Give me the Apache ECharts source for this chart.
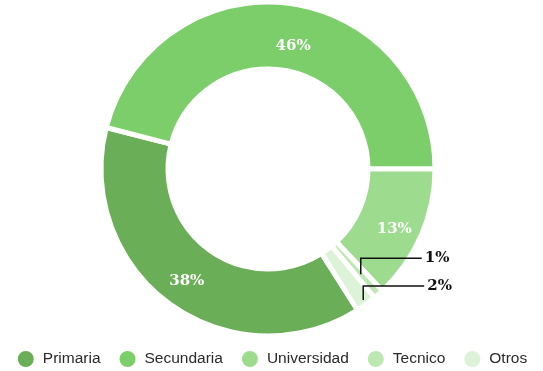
<!DOCTYPE html>
<html>
<head>
<meta charset="utf-8">
<script src="https://cdn.jsdelivr.net/npm/echarts@6/dist/echarts.min.js"></script>
<style>
  html, body { margin: 0; padding: 0; background: #fff; }
  #chart { width: 543px; height: 371px; }
</style>
</head>
<body>
<div id="chart"></div>
<script>
// Education level shares (percent)
const categories = ['Primaria', 'Secundaria', 'Universidad', 'Tecnico', 'Otros'];
const values = [38, 46, 13, 1, 2];
const colors = ['#6aae57', '#7bce6a', '#9ddb8f', '#bde8b2', '#dcf3d7'];

// Ring geometry (pixels)
const CX = 268, CY = 169;
const R_IN = 100, R_OUT = 167;
const START = 302.4;

// Small slices get an outside label with an elbow leader:
// "at" is where the leader starts (fraction of the outer radius),
// "rise" is the length of its vertical part
const outsideLabel = {
  Tecnico: { at: 0.84, rise: 16 },
  Otros: { at: 0.97, rise: 14 }
};
// Nudges for the inside labels
const insideOffset = { Primaria: [-1, 2], Secundaria: [8, 13], Universidad: [1, 6] };

const total = values.reduce((a, b) => a + b, 0);
function midAngle(i) {
  let before = 0;
  for (let k = 0; k < i; k++) before += values[k];
  const frac = (before + values[i] / 2) / total;
  return (START - frac * 360) * Math.PI / 180;
}

const serif = {
  fontFamily: 'DejaVu Serif',
  fontWeight: 'bold',
  fontSize: 15
};

// Filled ring with the inside labels
const ringData = categories.map((name, i) => {
  const inside = outsideLabel[name] === undefined;
  return {
    name,
    value: values[i],
    itemStyle: { color: colors[i] },
    label: inside
      ? Object.assign({ show: true, position: 'inside', color: '#fff', offset: insideOffset[name] || [0, 0] }, serif)
      : { show: false },
    labelLine: { show: false }
  };
});

// Transparent copy on top that carries the leader lines of the small slices,
// so the leaders are drawn over the neighbouring sectors
const leaderData = categories.map((name, i) => {
  const outside = outsideLabel[name] !== undefined;
  return {
    name,
    value: values[i],
    label: outside
      ? Object.assign({ show: true, position: 'outside', color: '#111' }, serif)
      : { show: false },
    labelLine: outside
      ? { show: true, smooth: false, lineStyle: { color: '#111', width: 1.5 } }
      : { show: false }
  };
});

const common = {
  type: 'pie',
  center: [CX, CY],
  radius: [R_IN, R_OUT],
  startAngle: START,
  clockwise: true,
  avoidLabelOverlap: false,
  percentPrecision: 0,
  silent: true,
  emphasis: { disabled: true },
  label: { formatter: '{d}%' }
};

const chart = echarts.init(document.getElementById('chart'), null, { renderer: 'canvas' });
chart.setOption({
  animation: false,
  backgroundColor: '#fff',
  color: colors,
  legend: {
    data: categories,
    left: 'center',
    top: 344,
    icon: 'circle',
    itemWidth: 18,
    itemHeight: 18,
    itemGap: 17,
    selectedMode: false,
    textStyle: {
      fontFamily: 'Liberation Sans',
      fontSize: 15.5,
      color: '#2a2a2a',
      padding: [0, 0, 0, 3]
    }
  },
  series: [
    Object.assign({}, common, {
      name: 'ring',
      z: 2,
      itemStyle: { borderColor: '#fff', borderWidth: 5 },
      data: ringData
    }),
    Object.assign({}, common, {
      name: 'leaders',
      z: 5,
      itemStyle: { color: 'rgba(0,0,0,0)', borderWidth: 0 },
      labelLayout: function (params) {
        const name = categories[params.dataIndex];
        const cfg = outsideLabel[name];
        if (cfg === undefined) return {};
        const a = midAngle(params.dataIndex);
        const r = R_OUT * cfg.at;
        const ax = CX + r * Math.cos(a);
        const ay = CY - r * Math.sin(a);
        const ly = ay - cfg.rise;
        return {
          x: ax + 64,
          y: ly,
          align: 'left',
          verticalAlign: 'middle',
          labelLinePoints: [[ax, ay], [ax, ly], [ax + 61, ly]]
        };
      },
      data: leaderData
    })
  ]
});
</script>
</body>
</html>
